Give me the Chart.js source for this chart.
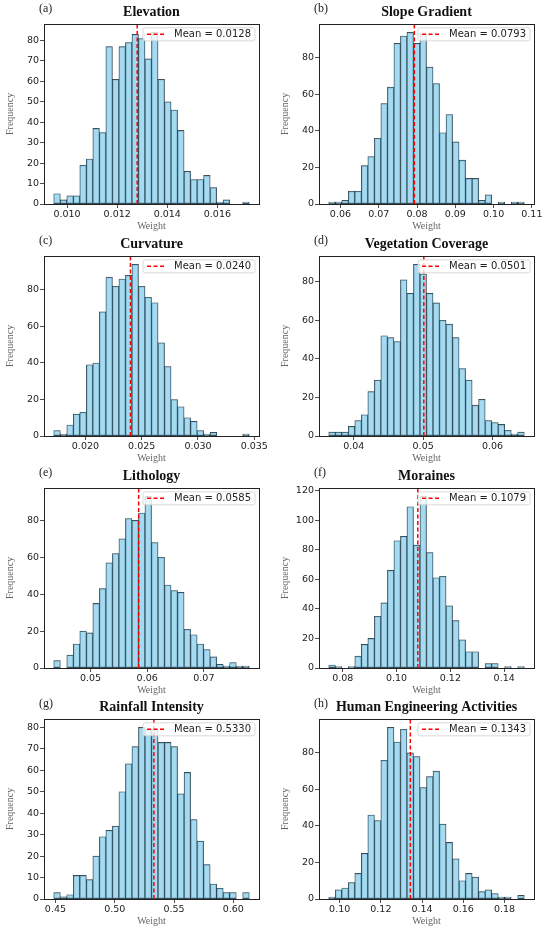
<!DOCTYPE html>
<html>
<head>
<meta charset="utf-8">
<title>Weight distributions</title>
<script src="https://cdn.jsdelivr.net/npm/chart.js@4.4.1/dist/chart.umd.min.js"></script>
<style>
  html, body { margin: 0; padding: 0; background: #fff; }
  #wrap { position: relative; width: 550px; height: 933px; overflow: hidden; }
  #wrap canvas { position: absolute; }
</style>
</head>
<body>
<div id="wrap"></div>
<script>
var titles = ["Elevation", "Slope Gradient", "Curvature", "Vegetation Coverage",
              "Lithology", "Moraines", "Rainfall Intensity", "Human Engineering Activities"];
var tags = ["(a)", "(b)", "(c)", "(d)", "(e)", "(f)", "(g)", "(h)"];
var means = [0.0128, 0.0793, 0.0240, 0.0501, 0.0585, 0.1079, 0.5330, 0.1343];

// first and last bin edge of every histogram (30 bins each)
var binRanges = [
  [0.00947, 0.01727], [0.05695, 0.1080], [0.01719, 0.03455], [0.03639, 0.06458],
  [0.04353, 0.0780], [0.0748, 0.14745], [0.4486, 0.6134], [0.0947, 0.1896]
];

var elevationCounts = [5, 2, 4, 4, 19, 22, 37, 35, 77, 61, 77, 79, 83, 81, 71,
                       84, 61, 50, 46, 36, 16, 12, 12, 14, 8, 1, 2, 0, 0, 1];
var slopeCounts = [1, 1, 2, 7, 7, 21, 26, 36, 55, 64, 88, 92, 94, 88, 93,
                   75, 66, 39, 49, 34, 24, 14, 14, 2, 5, 0, 1, 0, 1, 1];
var curvatureCounts = [3, 1, 6, 12, 13, 39, 40, 68, 87, 82, 86, 88, 94, 82, 76,
                       73, 51, 38, 20, 16, 10, 8, 3, 1, 2, 0, 0, 0, 0, 1];
var vegetationCounts = [2, 2, 2, 5, 8, 11, 23, 29, 52, 51, 49, 81, 74, 89, 84,
                        74, 69, 60, 58, 51, 35, 29, 16, 19, 8, 7, 6, 3, 1, 2];
var lithologyCounts = [4, 0, 7, 13, 20, 19, 35, 43, 57, 62, 70, 81, 80, 84, 93,
                       68, 60, 45, 42, 41, 21, 18, 13, 10, 6, 2, 1, 3, 1, 1];
var morainesCounts = [2, 1, 0, 1, 8, 16, 20, 35, 44, 66, 86, 89, 109, 83, 116,
                      78, 61, 62, 42, 32, 19, 11, 11, 0, 3, 3, 0, 1, 0, 1];
var rainfallCounts = [3, 1, 2, 11, 11, 9, 20, 29, 32, 34, 50, 63, 71, 80, 79,
                      79, 73, 73, 71, 49, 59, 37, 27, 16, 7, 5, 3, 3, 0, 3];
var humanCounts = [1, 5, 6, 9, 14, 25, 46, 43, 76, 94, 86, 93, 80, 78, 61,
                   67, 70, 41, 31, 22, 10, 14, 12, 4, 5, 3, 1, 1, 0, 2];
var allCounts = [elevationCounts, slopeCounts, curvatureCounts, vegetationCounts,
                 lithologyCounts, morainesCounts, rainfallCounts, humanCounts];

var xTickLabels = [
  ["0.010", "0.012", "0.014", "0.016"],
  ["0.06", "0.07", "0.08", "0.09", "0.10", "0.11"],
  ["0.020", "0.025", "0.030", "0.035"],
  ["0.04", "0.05", "0.06"],
  ["0.05", "0.06", "0.07"],
  ["0.08", "0.10", "0.12", "0.14"],
  ["0.45", "0.50", "0.55", "0.60"],
  ["0.10", "0.12", "0.14", "0.16", "0.18"]
];
var yTickValues = [
  [0, 10, 20, 30, 40, 50, 60, 70, 80],
  [0, 20, 40, 60, 80],
  [0, 20, 40, 60, 80],
  [0, 20, 40, 60, 80],
  [0, 20, 40, 60, 80],
  [0, 20, 40, 60, 80, 100, 120],
  [0, 10, 20, 30, 40, 50, 60, 70, 80],
  [0, 20, 40, 60, 80]
];

var rowTops = [0, 232, 464, 695];
var sans = '"DejaVu Sans", sans-serif';
var serif = '"Liberation Serif", "Times New Roman", serif';

// box round the plot, like matplotlib spines
var frame = {
  id: 'frame',
  afterDraw: function (chart) {
    var a = chart.chartArea, ctx = chart.ctx;
    ctx.save();
    ctx.strokeStyle = '#222';
    ctx.lineWidth = 1;
    ctx.strokeRect(Math.round(a.left) + 0.5, Math.round(a.top) + 0.5,
                   Math.round(a.right - a.left), Math.round(a.bottom - a.top));
    ctx.restore();
  }
};

// legend box inside the top right corner
var meanBox = {
  id: 'meanBox',
  afterDatasetsDraw: function (chart, args, opts) {
    var ctx = chart.ctx, a = chart.chartArea;
    ctx.save();
    ctx.font = '10px ' + sans;
    var tw = ctx.measureText(opts.text).width;
    var bw = tw + 35, bh = 13;
    var bx = a.right - 4 - bw, by = a.top + 4;
    ctx.beginPath();
    ctx.roundRect(bx, by, bw, bh, 2);
    ctx.fillStyle = 'rgba(255,255,255,0.8)';
    ctx.fill();
    ctx.strokeStyle = '#d0d0d0';
    ctx.lineWidth = 0.8;
    ctx.stroke();
    ctx.beginPath();
    ctx.setLineDash([4, 2.5]);
    ctx.moveTo(bx + 4, by + bh / 2);
    ctx.lineTo(bx + 23, by + bh / 2);
    ctx.strokeStyle = 'red';
    ctx.lineWidth = 1.5;
    ctx.stroke();
    ctx.setLineDash([]);
    ctx.fillStyle = '#222';
    ctx.textAlign = 'left';
    ctx.textBaseline = 'middle';
    ctx.fillText(opts.text, bx + 31, by + bh / 2 + 0.5);
    ctx.restore();
  }
};

var panelTag = {
  id: 'panelTag',
  afterDraw: function (chart, args, opts) {
    var ctx = chart.ctx;
    ctx.save();
    ctx.font = '12px ' + serif;
    ctx.fillStyle = '#222';
    ctx.textAlign = 'left';
    ctx.textBaseline = 'middle';
    ctx.fillText(opts.text, chart.chartArea.left - 5, 9);
    ctx.restore();
  }
};

var wrap = document.getElementById('wrap');

function makePanel(i) {
  var canvas = document.createElement('canvas');
  canvas.width = 275;
  canvas.height = 232;
  canvas.style.left = (i % 2) * 275 + 'px';
  canvas.style.top = rowTops[Math.floor(i / 2)] + 'px';
  wrap.appendChild(canvas);

  var counts = allCounts[i];
  var lo = binRanges[i][0], hi = binRanges[i][1];
  var w = (hi - lo) / counts.length;
  var bars = counts.map(function (c, k) { return {x: lo + w * (k + 0.5), y: c}; });
  var margin = (hi - lo) * 0.05;
  var yMax = Math.max.apply(null, counts) * 1.05;
  var xLabels = xTickLabels[i];

  new Chart(canvas, {
    type: 'bar',
    data: {
      datasets: [{
        type: 'line',
        data: [{x: means[i], y: 0}, {x: means[i], y: yMax}],
        borderColor: 'red',
        borderWidth: 1.5,
        borderDash: [4, 2.5],
        pointRadius: 0,
        order: 0
      }, {
        data: bars,
        backgroundColor: 'rgba(135,206,235,0.75)',
        borderColor: 'rgba(15,30,40,0.9)',
        borderWidth: 0.65,
        borderSkipped: false,
        barPercentage: 1,
        categoryPercentage: 1,
        order: 1
      }]
    },
    options: {
      responsive: false,
      animation: false,
      events: [],
      layout: {padding: {left: 0, right: 16, top: 0, bottom: 0}},
      scales: {
        x: {
          type: 'linear',
          offset: false,
          min: lo - margin,
          max: hi + margin,
          afterBuildTicks: function (axis) {
            axis.ticks = xLabels.map(function (s) { return {value: parseFloat(s)}; });
          },
          afterFit: function (axis) { axis.height = 28; },
          ticks: {
            autoSkip: false,
            maxRotation: 0,
            padding: 1,
            color: '#222',
            font: {family: sans, size: 9.5},
            callback: function (v, idx) { return xLabels[idx]; }
          },
          grid: {display: true, drawOnChartArea: false, drawTicks: true, tickLength: 4,
                 color: '#222', lineWidth: 0.8, offset: false},
          border: {display: false},
          title: {display: true, text: 'Weight', color: '#666',
                  font: {family: serif, size: 10}, padding: {top: 0, bottom: 0}}
        },
        y: {
          min: 0,
          max: yMax,
          afterBuildTicks: function (axis) {
            axis.ticks = yTickValues[i].map(function (v) { return {value: v}; });
          },
          afterFit: function (axis) { axis.width = 44; },
          ticks: {
            padding: 1,
            color: '#222',
            font: {family: sans, size: 9.5},
            callback: function (v) { return String(v); }
          },
          grid: {display: true, drawOnChartArea: false, drawTicks: true, tickLength: 4,
                 color: '#222', lineWidth: 0.8},
          border: {display: false},
          title: {display: true, text: 'Frequency', color: '#666',
                  font: {family: serif, size: 10}, padding: {top: 4, bottom: 0}}
        }
      },
      plugins: {
        legend: {display: false},
        tooltip: {enabled: false},
        title: {
          display: true,
          fullSize: false,
          text: titles[i],
          color: '#111',
          font: {family: serif, size: 14, weight: 'bold'},
          padding: {top: 4, bottom: 3}
        },
        meanBox: {text: 'Mean = ' + means[i].toFixed(4)},
        panelTag: {text: tags[i]}
      }
    },
    plugins: [meanBox, frame, panelTag]
  });
}

for (var i = 0; i < titles.length; i++) makePanel(i);
</script>
</body>
</html>
